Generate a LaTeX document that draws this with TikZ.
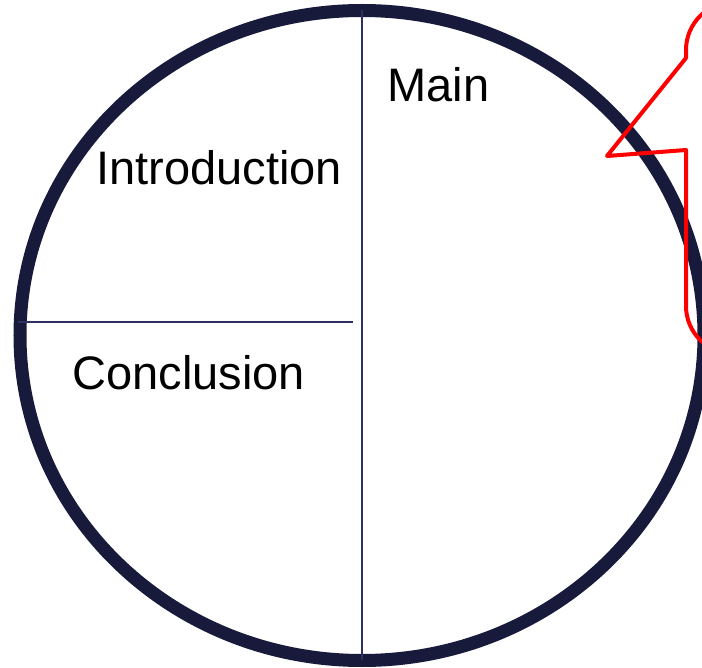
\documentclass[tikz,border=0pt]{standalone}
\usepackage{fontspec}
\setmainfont{Liberation Sans}
\usepackage{xcolor}
\definecolor{ringnavy}{HTML}{171A3B}
\definecolor{splitnavy}{HTML}{2C3063}

\begin{document}
\begin{tikzpicture}[x=0.5pt,y=-0.5pt,
  part/.style={anchor=base west,inner sep=0pt,font=\fontsize{23.5}{28}\selectfont},
  split/.style={draw=splitnavy,line width=0.75pt},
  callout/.style={draw=red,line width=2pt,line join=round}]
  \clip (0,0) rectangle (702,668);
  \draw[ringnavy,line width=6.5pt] (362,335.5) ellipse [x radius=342,y radius=325];
  \coordinate (top) at (362,10); \coordinate (bottom) at (362,660);
  \coordinate (left) at (18,322); \coordinate (right) at (353,322);
  \draw[split] (top) -- (bottom); \draw[split] (left) -- (right);
  \node[part] (main) at (387,102) {Main};
  \node[part] (intro) at (96,185) {Introduction};
  \node[part] (concl) at (72,390) {Conclusion};
  \draw[callout] (607,156) -- (686,150) [rounded corners=24pt] -- (686,354) -- (800,354) -- (800,2) -- (686,2) [sharp corners] -- (686,58) -- cycle;
\end{tikzpicture}
\end{document}
